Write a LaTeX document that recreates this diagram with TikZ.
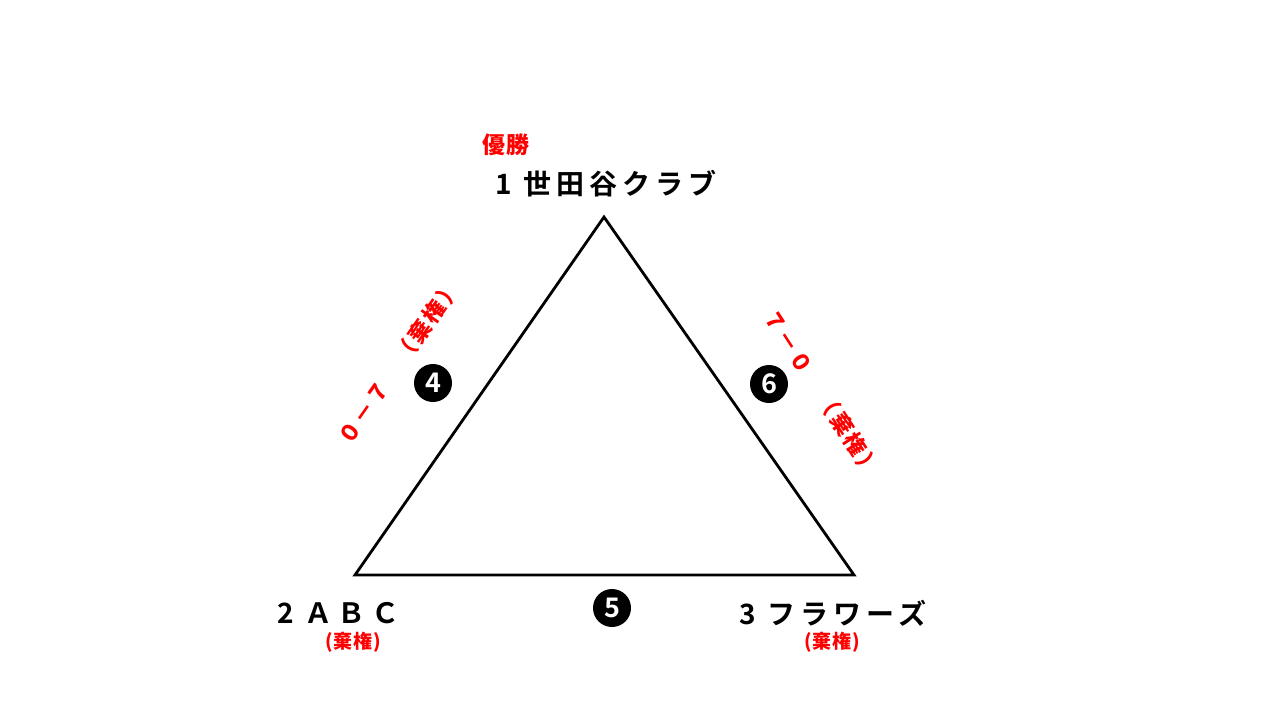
\documentclass[tikz,border=0pt]{standalone}
\usepackage{fontspec}
\newfontfamily\jp{Noto Sans CJK JP Bold}
\newfontfamily\jpsp{Noto Sans CJK JP Bold}[LetterSpace=18]
\newfontfamily\jprot{Noto Sans CJK JP Black}[LetterSpace=12]
\newfontfamily\jpred{Noto Sans CJK JP Black}[LetterSpace=4]
\tikzset{
  team/.style={font=\jpsp\fontsize{28}{30}\selectfont, text=black, inner sep=0pt},
  redtag/.style={font=\jpred\fontsize{19}{20}\selectfont, text=red, inner sep=0pt},
  redrot/.style={font=\jprot\fontsize{22}{24}\selectfont, text=red, inner sep=0pt},
  badge/.style={circle, fill=black, minimum size=38pt, inner sep=0pt, text=white, font=\jp\fontsize{27}{27}\selectfont},
  edge/.style={line width=2.8pt, line join=miter}
}
\begin{document}
\begin{tikzpicture}[x=1pt,y=-1pt]
\useasboundingbox[fill=white] (0,0) rectangle (1280,720);
\coordinate (A) at (604,217);
\coordinate (B) at (355,575);
\coordinate (C) at (854,575);
\draw[edge] (A) -- (B) -- (C) -- cycle;
\node[redtag, font=\jpred\fontsize{23}{24}\selectfont] (win) at (506,145) {優勝};
\node[team] (t1) at (606,184) {1 世田谷クラブ};
\node[team] (t2) at (338,613) {2 ＡＢＣ};
\node[team] (t3) at (833,613) {3 フラワーズ};
\node[redtag] (w2) at (353,642) {(棄権)};
\node[redtag] (w3) at (832,642) {(棄権)};
\node[badge] (n4) at (433,383) {4};
\node[badge] (n5) at (612,608) {5};
\node[badge] (n6) at (769,384) {6};
\node[redrot, rotate=55] (s4) at (399,362) {０－７　（棄権）};
\node[redrot, rotate=-57] (s6) at (822,393) {７－０　（棄権）};
\end{tikzpicture}
\end{document}
